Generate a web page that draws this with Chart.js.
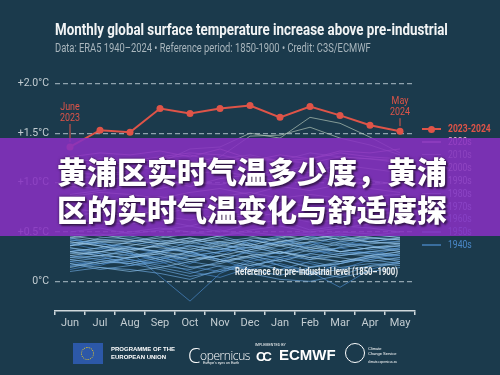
<!DOCTYPE html>
<html>
<head>
<meta charset="utf-8">
<script src="https://cdn.jsdelivr.net/npm/chart.js@4.4.1/dist/chart.umd.min.js"></script>
<style>
  body { margin: 0; width: 500px; height: 375px; background: #1b3a4c; overflow: hidden; position: relative;
         font-family: Roboto, sans-serif; }
  #wrap { position: absolute; left: 0; top: 0; width: 500px; height: 375px; }
  .abs { position: absolute; white-space: nowrap; transform-origin: left center; }
  #title { left: 55px; top: 19px; font-size: 17px; font-weight: bold; color: #f2f4f5; }
  #sub { left: 55px; top: 41px; font-size: 12px; color: #a9b6bd; }
  .leg { position: absolute; left: 422px; height: 12px; font-size: 11px; white-space: nowrap; }
  .leg i { position: absolute; left: 0; top: 5px; width: 19px; height: 1.5px; }
  .leg span { position: absolute; left: 26px; top: -1px; transform: scaleX(0.78); transform-origin: left center; }
  #banner { left: 0; top: 138px; width: 500px; height: 98px; background: rgba(134, 48, 192, 0.88); }
  #banner div { position: absolute; left: 57px; top: 13px; font-family: "Noto Sans CJK SC", sans-serif; font-weight: 900;
                font-size: 30px; line-height: 38px; color: #fff;
                text-shadow: 0 0 3px rgba(0,0,0,0.55), 2px 2px 2px rgba(0,0,0,0.45); }
  .logo { color: #fff; font-family: "Liberation Sans", Arial, sans-serif; }
</style>
</head>
<body>
<div id="wrap"><canvas id="chart"></canvas></div>
<div class="abs" id="title" data-w="393">Monthly global surface temperature increase above pre-industrial</div>
<div class="abs" id="sub" data-w="316">Data: ERA5 1940–2024 • Reference period: 1850-1900 • Credit: C3S/ECMWF</div>
<div id="legend"></div>

<div class="abs" style="left:73px;top:343px;width:30px;height:21px;background:#2c58a8;">
  <div style="position:absolute;left:8px;top:4px;width:11px;height:11px;border:1.5px dotted #f3d21c;border-radius:50%;"></div>
</div>
<div class="abs logo" style="left:111px;top:346px;font-size:6px;font-weight:bold;line-height:7.5px;">PROGRAMME OF THE<br>EUROPEAN UNION</div>
<div class="abs logo" style="left:188px;top:342px;font-family:'Open Sans',sans-serif;font-weight:300;font-size:12px;letter-spacing:-0.4px;"><span style="font-size:20px;vertical-align:-3px;">C</span>opernicus</div>
<div class="abs logo" style="left:203px;top:361px;font-size:3.5px;">Europe's eyes on Earth</div>
<div class="abs logo" style="left:255px;top:343px;font-size:3.5px;">IMPLEMENTED BY</div>
<div class="abs logo" style="left:256px;top:349px;font-size:13px;font-weight:bold;letter-spacing:-3px;">CC</div>
<div class="abs logo" style="left:279px;top:346px;font-size:15px;font-weight:bold;">ECMWF</div>
<div class="abs" style="left:345px;top:343px;width:18px;height:18px;border:1px solid #fff;border-radius:50%;"></div>
<div class="abs logo" style="left:368px;top:346px;font-size:4px;line-height:5px;">Climate<br>Change Service</div>
<div class="abs logo" style="left:368px;top:360px;font-size:3px;">climate.copernicus.eu</div>

<div class="abs" id="banner"><div>黄浦区实时气温多少度，黄浦<br>区的实时气温变化与舒适度探</div></div>

<script>
const months = ["Jun", "Jul", "Aug", "Sep", "Oct", "Nov", "Dec", "Jan", "Feb", "Mar", "Apr", "May"];
const yTicks = [0, 0.5, 1.0, 1.5, 2.0];

// Jun 2023 -> May 2024
const temp2023 = [1.36, 1.53, 1.51, 1.75, 1.70, 1.75, 1.78, 1.66, 1.77, 1.68, 1.58, 1.52];

// earlier years, Jun -> May, grouped by decade
const y1940s = [
  [0.32, 0.28, 0.22, 0.18, 0.25, 0.30, 0.35, 0.28, 0.40, 0.30, 0.34, 0.36],
  [0.36, 0.40, 0.30, 0.05, -0.20, 0.08, 0.20, 0.26, 0.22, 0.35, 0.40, 0.38],
  [0.20, 0.16, 0.25, 0.32, 0.30, 0.22, 0.12, 0.18, 0.10, -0.06, 0.12, 0.20],
  [0.42, 0.38, 0.35, 0.30, 0.22, 0.26, 0.38, 0.45, 0.32, 0.28, 0.30, 0.26],
  [0.12, 0.18, 0.20, 0.26, 0.15, 0.10, 0.22, 0.30, 0.26, 0.20, 0.25, 0.30],
  [0.24, 0.30, 0.34, 0.28, 0.36, 0.40, 0.30, 0.22, 0.28, 0.34, 0.28, 0.24],
  [0.44, 0.36, 0.28, 0.24, 0.18, 0.30, 0.42, 0.38, 0.46, 0.40, 0.36, 0.32],
  [0.16, 0.22, 0.28, 0.20, 0.10, 0.04, 0.14, 0.24, 0.18, 0.12, 0.22, 0.28],
  [0.30, 0.26, 0.16, 0.22, 0.28, 0.34, 0.28, 0.16, 0.06, 0.18, 0.26, 0.34],
  [0.38, 0.32, 0.40, 0.36, 0.30, 0.20, 0.32, 0.40, 0.36, 0.46, 0.42, 0.40],
];
const y1950s = [
  [0.26, 0.22, 0.18, 0.12, 0.05, 0.10, 0.16, 0.22, 0.15, 0.18, 0.24, 0.22],
  [0.15, 0.20, 0.24, 0.28, 0.20, 0.15, 0.08, 0.02, 0.00, 0.06, 0.16, 0.20],
  [0.30, 0.34, 0.28, 0.22, 0.30, 0.38, 0.42, 0.36, 0.44, 0.38, 0.32, 0.36],
  [0.10, 0.14, 0.12, 0.08, 0.02, 0.12, 0.18, 0.12, 0.20, 0.14, 0.18, 0.16],
  [0.38, 0.42, 0.44, 0.40, 0.36, 0.32, 0.40, 0.46, 0.50, 0.42, 0.40, 0.44],
  [0.22, 0.26, 0.32, 0.36, 0.28, 0.22, 0.30, 0.28, 0.36, 0.30, 0.28, 0.26],
  [0.34, 0.28, 0.22, 0.16, 0.12, 0.20, 0.24, 0.16, 0.10, 0.04, 0.10, 0.14],
  [0.18, 0.12, 0.16, 0.20, 0.26, 0.30, 0.34, 0.40, 0.32, 0.26, 0.30, 0.34],
  [0.42, 0.38, 0.34, 0.30, 0.40, 0.46, 0.38, 0.32, 0.40, 0.36, 0.44, 0.46],
  [0.20, 0.24, 0.20, 0.14, 0.08, 0.16, 0.12, 0.06, 0.14, 0.20, 0.22, 0.18],
];
const y1960s = [
  [0.28, 0.30, 0.26, 0.30, 0.34, 0.28, 0.24, 0.30, 0.22, 0.26, 0.30, 0.32],
  [0.18, 0.14, 0.10, 0.14, 0.20, 0.26, 0.20, 0.12, 0.08, 0.12, 0.15, 0.18],
  [0.40, 0.36, 0.32, 0.36, 0.42, 0.38, 0.30, 0.36, 0.30, 0.34, 0.38, 0.40],
  [0.24, 0.26, 0.30, 0.22, 0.14, 0.18, 0.26, 0.20, 0.28, 0.24, 0.20, 0.24],
  [0.34, 0.30, 0.36, 0.42, 0.38, 0.44, 0.36, 0.28, 0.34, 0.40, 0.44, 0.42],
  [0.30, 0.34, 0.40, 0.46, 0.40, 0.34, 0.28, 0.24, 0.32, 0.38, 0.36, 0.30],
  [0.14, 0.20, 0.18, 0.24, 0.30, 0.22, 0.16, 0.22, 0.14, 0.18, 0.24, 0.28],
  [0.44, 0.40, 0.42, 0.38, 0.32, 0.40, 0.44, 0.42, 0.38, 0.30, 0.34, 0.38],
  [0.22, 0.18, 0.24, 0.30, 0.36, 0.32, 0.38, 0.30, 0.24, 0.28, 0.26, 0.20],
  [0.36, 0.44, 0.46, 0.40, 0.44, 0.36, 0.34, 0.40, 0.44, 0.46, 0.40, 0.44],
];
const y1970s = [
  [0.36, 0.40, 0.38, 0.34, 0.30, 0.36, 0.42, 0.36, 0.40, 0.44, 0.40, 0.38],
  [0.46, 0.42, 0.40, 0.44, 0.48, 0.52, 0.46, 0.40, 0.46, 0.50, 0.48, 0.44],
  [0.30, 0.26, 0.24, 0.28, 0.22, 0.26, 0.32, 0.38, 0.34, 0.30, 0.34, 0.36],
  [0.50, 0.54, 0.48, 0.52, 0.56, 0.50, 0.58, 0.62, 0.52, 0.56, 0.54, 0.50],
  [0.40, 0.36, 0.30, 0.38, 0.44, 0.40, 0.36, 0.44, 0.48, 0.42, 0.46, 0.50],
  [0.26, 0.30, 0.34, 0.30, 0.26, 0.20, 0.26, 0.30, 0.24, 0.20, 0.26, 0.30],
  [0.44, 0.48, 0.42, 0.38, 0.40, 0.46, 0.50, 0.46, 0.42, 0.48, 0.44, 0.42],
];
const y1980s = [
  [0.56, 0.60, 0.58, 0.62, 0.56, 0.64, 0.70, 0.66, 0.60, 0.62, 0.66, 0.64],
  [0.48, 0.46, 0.50, 0.54, 0.50, 0.46, 0.52, 0.56, 0.50, 0.54, 0.58, 0.56],
  [0.66, 0.70, 0.72, 0.68, 0.74, 0.78, 0.72, 0.80, 0.76, 0.70, 0.72, 0.74],
];
const y1990s = [
  [0.74, 0.70, 0.66, 0.72, 0.76, 0.70, 0.78, 0.82, 0.74, 0.78, 0.80, 0.76],
  [0.62, 0.60, 0.64, 0.66, 0.62, 0.68, 0.64, 0.70, 0.66, 0.72, 0.68, 0.70],
  [0.88, 0.92, 0.96, 0.94, 1.00, 0.98, 1.04, 1.10, 1.18, 1.06, 1.02, 0.98],
];
const y2000s = [
  [0.86, 0.90, 0.88, 0.84, 0.90, 0.94, 0.88, 0.96, 0.92, 0.98, 0.94, 0.90],
  [0.96, 0.94, 0.98, 1.02, 0.96, 1.04, 1.08, 1.00, 1.06, 1.02, 0.98, 1.00],
  [0.80, 0.84, 0.82, 0.86, 0.80, 0.86, 0.90, 0.84, 0.88, 0.84, 0.86, 0.88],
];
const y2010s = [
  [1.05, 1.06, 1.10, 1.20, 1.34, 1.36, 1.50, 1.45, 1.66, 1.60, 1.46, 1.30],
  [1.10, 1.08, 1.12, 1.16, 1.20, 1.26, 1.47, 1.48, 1.56, 1.45, 1.38, 1.28],
  [0.98, 1.02, 1.06, 1.02, 1.08, 1.12, 1.06, 1.14, 1.10, 1.18, 1.14, 1.10],
  [1.14, 1.18, 1.16, 1.22, 1.18, 1.24, 1.28, 1.22, 1.30, 1.26, 1.24, 1.20],
];
const y2020s = [
  [1.26, 1.30, 1.28, 1.32, 1.26, 1.34, 1.24, 1.22, 1.20, 1.26, 1.24, 1.22],
  [1.20, 1.24, 1.22, 1.26, 1.30, 1.28, 1.22, 1.28, 1.24, 1.30, 1.26, 1.24],
  [1.22, 1.18, 1.20, 1.24, 1.28, 1.20, 1.26, 1.22, 1.24, 1.32, 1.30, 1.34],
];

const decadeLabels = ["2020s", "2010s", "2000s", "1990s", "1980s", "1970s", "1960s", "1950s", "1940s"];
const decadeData = [y2020s, y2010s, y2000s, y1990s, y1980s, y1970s, y1960s, y1950s, y1940s];
const decadeColors = ["#f0b8d0", "#b4c6b8", "#cfd8c6", "#c4dcd6", "#b0d4e0", "#a0cae6", "#86b8e0", "#6aa4d8", "#4a88c8"];

const red = "#df5448";
const font = "Roboto, sans-serif";

let datasets = [{
  label: "2023-2024",
  data: temp2023,
  borderColor: red,
  backgroundColor: red,
  borderWidth: 2,
  pointRadius: 3.5,
  pointBackgroundColor: red,
  pointBorderWidth: 0,
}];
decadeData.forEach((group, d) => {
  group.forEach((row) => {
    datasets.push({
      label: decadeLabels[d],
      data: row,
      borderColor: decadeColors[d] + "b0",
      borderWidth: 1,
      pointRadius: 0,
    });
  });
});

// June 2023 / May 2024 call-outs and reference label
let notes = [
  { index: 0, text: ["June", "2023"], lift: 24 },
  { index: 11, text: ["May", "2024"], lift: 14 },
];

const annotate = {
  id: "annotate",
  afterDatasetsDraw(chart) {
    let { ctx, scales: { x, y } } = chart;
    ctx.save();
    ctx.fillStyle = red;
    ctx.strokeStyle = red;
    ctx.lineWidth = 1;
    ctx.font = "10.5px " + font;
    ctx.textAlign = "center";
    ctx.textBaseline = "middle";
    notes.forEach((n) => {
      let px = x.getPixelForValue(n.index);
      let py = y.getPixelForValue(temp2023[n.index]);
      ctx.save();
      ctx.translate(px, py - n.lift);
      ctx.scale(0.85, 1);
      ctx.fillText(n.text[1], 0, -5);
      ctx.fillText(n.text[0], 0, -16);
      ctx.restore();
      ctx.beginPath();
      ctx.moveTo(px, py - n.lift + 1);
      ctx.lineTo(px, py - 5);
      ctx.stroke();
    });
    ctx.fillStyle = "#eef1f2";
    ctx.font = "bold 10.5px " + font;
    ctx.textAlign = "right";
    ctx.translate(x.getPixelForValue(11) - 2, y.getPixelForValue(0) - 9);
    ctx.scale(0.74, 1);
    ctx.fillText("Reference for pre-industrial level (1850–1900)", 0, 0);
    ctx.restore();
  },
};

let chartEl = document.querySelector("#chart");
let tempChart = new Chart(chartEl, {
  type: "line",
  data: { labels: months, datasets: datasets },
  options: {
    responsive: true,
    maintainAspectRatio: false,
    animation: false,
    layout: { padding: { top: 64, right: 85, left: 0, bottom: 0 } },
    plugins: { legend: { display: false }, tooltip: { enabled: false } },
    elements: { line: { tension: 0 } },
    scales: {
      x: {
        offset: true,
        grid: { offset: true, drawOnChartArea: false, drawTicks: true, tickLength: 4, color: "#d0d8dc", lineWidth: 1.5 },
        border: { display: true, color: "#d0d8dc", width: 1.5 },
        ticks: { color: "#c3cdd2", font: { family: font, size: 11 }, padding: 2, autoSkip: false, maxRotation: 0 },
        afterFit: (s) => { s.height = 64; },
      },
      y: {
        min: -0.3,
        max: 2.2,
        afterBuildTicks: (s) => { s.ticks = yTicks.map((v) => ({ value: v })); },
        afterFit: (s) => { s.width = 55; },
        grid: { color: "#8fa3ae", lineWidth: 1.3, drawTicks: false },
        border: { display: false, dash: [5, 3] },
        ticks: {
          color: "#c3cdd2",
          font: { family: font, size: 10.5 },
          padding: 6,
          callback: (v) => (v === 0 ? "0°C" : "+" + v.toFixed(1) + "°C"),
        },
      },
    },
  },
  plugins: [annotate],
});

// legend rows at the right
let legend = document.querySelector("#legend");
let rows = '<div class="leg" style="top:123px;color:' + red + ';font-weight:bold;"><i style="background:' + red +
  ';height:2px;"></i><b style="position:absolute;left:6px;top:2.5px;width:7px;height:7px;border-radius:50%;background:' + red +
  ';"></b><span>2023-2024</span></div>';
decadeLabels.forEach((lab, i) => {
  rows += '<div class="leg" style="top:' + (136 + i * 12.9) + 'px;color:' + decadeColors[i] + ';"><i style="background:' +
    decadeColors[i] + 'aa;"></i><span>' + lab + '</span></div>';
});
legend.innerHTML = rows;

// squeeze the header lines to the condensed widths of the original
document.querySelectorAll("[data-w]").forEach((el) => {
  el.style.transform = "scaleX(" + el.dataset.w / el.offsetWidth + ")";
});
</script>
</body>
</html>
